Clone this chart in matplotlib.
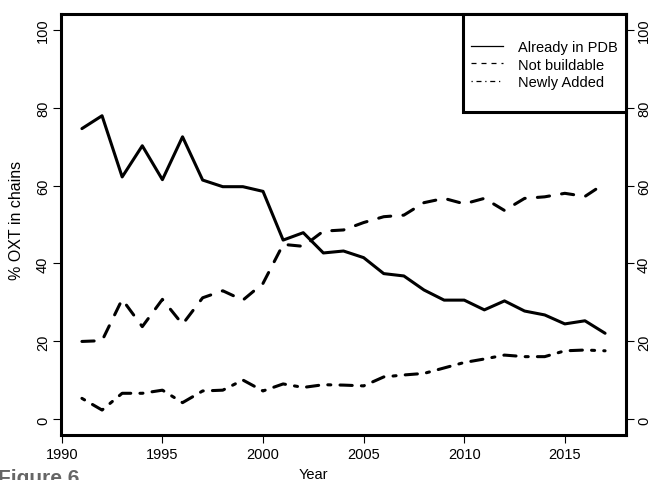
import matplotlib
matplotlib.use("Agg")
import matplotlib.pyplot as plt
from matplotlib.patches import Rectangle
from matplotlib.lines import Line2D

plt.rcParams['font.family'] = ['Liberation Sans', 'DejaVu Sans']

years = list(range(1991, 2018))
already_in_pdb = [74.6, 77.9, 62.2, 70.2, 61.5, 72.5, 61.4, 59.7, 59.7, 58.5,
                  46.0, 47.9, 42.7, 43.2, 41.5, 37.4, 36.8, 33.2, 30.6, 30.6,
                  28.1, 30.4, 27.8, 26.8, 24.5, 25.3, 22.1]
not_buildable = [20.0, 20.2, 30.8, 23.8, 30.8, 24.4, 31.2, 33.0, 30.6, 34.9,
                 44.9, 44.4, 48.3, 48.6, 50.5, 52.0, 52.4, 55.6, 56.7, 55.3,
                 56.7, 53.6, 56.7, 57.1, 58.0, 57.2, 60.6]
newly_added = [5.4, 2.4, 6.7, 6.7, 7.5, 4.3, 7.3, 7.5, 10.1, 7.3,
               9.1, 8.2, 8.9, 8.8, 8.6, 10.9, 11.4, 11.8, 13.2, 14.6,
               15.5, 16.5, 16.1, 16.1, 17.6, 17.8, 17.6]
labels = ['Already in PDB', 'Not buildable', 'Newly Added']
dash_styles = ['-', (0, (4, 4)), (0, (1, 3, 4, 3))]

fig = plt.figure(figsize=(6.53, 4.81), dpi=100)
ax = fig.add_axes([61/653, 1-436/481, 565/653, 421/481])

lw = 2.2
for vals, ls in zip([already_in_pdb, not_buildable, newly_added], dash_styles):
    ax.plot(years, vals, color='black', lw=lw, linestyle=ls,
            solid_capstyle='round', dash_capstyle='round', solid_joinstyle='round')

ax.set_xlim(1989.96, 2018.04)
ax.set_ylim(-4, 104)
ax.set_xticks([1990, 1995, 2000, 2005, 2010, 2015])
ax.set_yticks([0, 20, 40, 60, 80, 100])
ax.tick_params(axis='both', direction='out', length=5.5, width=0.8, labelsize=10.5, pad=3)
ax.tick_params(axis='y', right=True, labelright=True, labelrotation=90, pad=2.5)
for lab in ax.get_yticklabels():
    lab.set_va('center')
for sp in ax.spines.values():
    sp.set_linewidth(lw)

# legend box in the upper right corner
box = Rectangle((0.711, 0.767), 0.289, 0.233, transform=ax.transAxes,
                facecolor='white', edgecolor='black', lw=lw, zorder=5, clip_on=False)
ax.add_patch(box)
handles = [Line2D([], [], color='black', lw=0.9, linestyle=ls) for ls in dash_styles]
leg = ax.legend(handles, labels, loc='center', bbox_to_anchor=(0.8555, 0.88),
                bbox_transform=ax.transAxes, frameon=False, fontsize=10.5,
                handlelength=2.2, handletextpad=1.0, labelspacing=0.25)
leg.set_zorder(6)

fig.text(17/653, 1-220/481, '% OXT in chains', rotation=90, ha='center', va='center', fontsize=11.5)
fig.text(313/653, 1-468/481, 'Year', ha='center', va='top', fontsize=10.5)
fig.text(-2/653, 1-469/481, 'Figure 6', ha='left', va='top', fontsize=15,
         fontweight='bold', color='#666666')

fig.savefig('out.png', dpi=100)
